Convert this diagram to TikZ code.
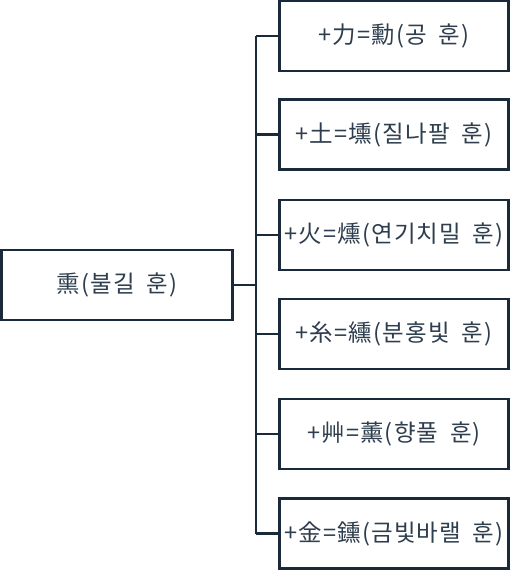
\documentclass[tikz,border=0pt]{standalone}
\usepackage{fontspec}
\setmainfont{Noto Sans CJK KR}
\newfontfamily\hunfont[LetterSpace=5, WordSpace=1.8]{Noto Sans CJK KR}
\usepackage{tikz}
\usetikzlibrary{positioning}

\definecolor{boxline}{HTML}{1B2A3A}
\definecolor{boxtext}{HTML}{2E3E4E}

\tikzset{
    hunbox/.style={draw=boxline, line width=2.4pt, fill=white, text=boxtext,
        minimum width=231pt, minimum height=70pt, inner sep=0pt,
        font=\hunfont\fontsize{23.5}{28}\selectfont},
    link/.style={draw=boxline, line width=2.4pt}
}

\begin{document}
\begin{tikzpicture}[x=1pt, y=-1pt]
                \useasboundingbox (0,0) rectangle (512,570);
                
                \node[hunbox] (root) at (117,285) {熏(불길 훈)};
                \coordinate (trunk) at (256,285);
                
                \node[hunbox, minimum width=229pt] (k1) at (394,36) {+力=勳(공 훈)};
                \node[hunbox, minimum width=229pt] (k2) at (394,134.5) {+土=壎(질나팔 훈)};
                \node[hunbox, minimum width=229pt] (k3) at (394,235) {+火=燻(연기치밀 훈)};
                \node[hunbox, minimum width=229pt] (k4) at (394,334) {+糸=纁(분홍빛 훈)};
                \node[hunbox, minimum width=229pt] (k5) at (394,434) {+艸=薰(향풀 훈)};
                \node[hunbox, minimum width=229pt] (k6) at (394,533.5) {+金=鑂(금빛바랠 훈)};
                
                \draw[link] (root.east) -- (trunk);
                \draw[link] (trunk |- k1.west) -- (trunk |- k6.west);
                \foreach \i in {1,...,6} { \draw[link] (k\i.west) -- (k\i.west -| trunk); }
            \end{tikzpicture}
\end{document}
